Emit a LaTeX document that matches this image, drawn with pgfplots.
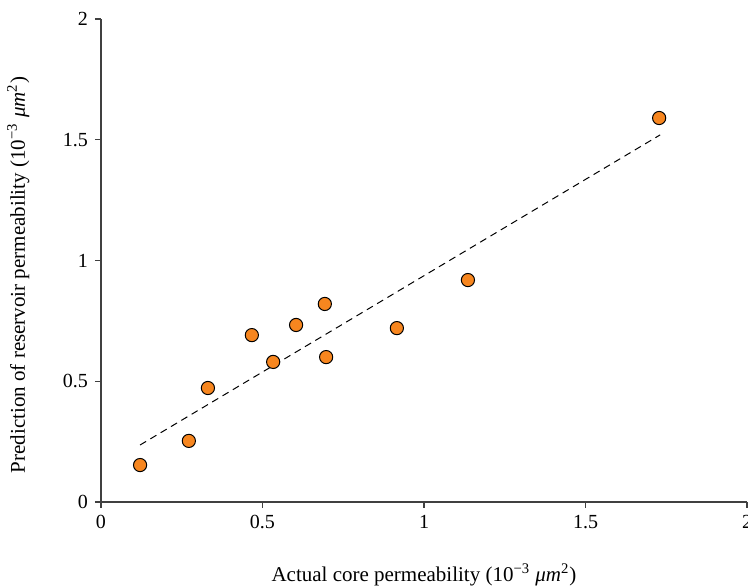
\documentclass[border=0pt]{standalone}
\usepackage{fontspec}
\setmainfont{Liberation Serif}
\usepackage{pgfplots}
\pgfplotsset{compat=1.18}
\usetikzlibrary{calc}
\definecolor{ptorange}{HTML}{F7861F}

\begin{document}
\fontsize{10}{12}\selectfont
\begin{tikzpicture}
\begin{axis}[
    name=ax,
    scale only axis,
    width=323pt, height=241.5pt,
    xmin=0, xmax=2, ymin=0, ymax=2,
    axis x line*=bottom, axis y line*=left,
    axis line style={-, line width=0.6pt, black!75},
    xtick={0,0.5,1,1.5,2}, ytick={0,0.5,1,1.5,2},
    xticklabels={0,0.5,1,1.5,2}, yticklabels={0,0.5,1,1.5,2},
    tick align=outside, major tick length=3pt,
    tick style={line width=0.6pt, black!75},
    minor tick num=0,
    ticklabel style={font=\fontsize{10}{12}\selectfont},
    /pgf/number format/assume math mode=true,
    xlabel={Actual core permeability (10\textsuperscript{−3} \textit{μm}\textsuperscript{2})},
    ylabel={Prediction of reservoir permeability (10\textsuperscript{−3} \textit{μm}\textsuperscript{2})},
    xlabel style={at={(axis description cs:0.5,-0.151)}, anchor=center},
    ylabel style={at={(axis description cs:-0.128,0.47)}, anchor=center, rotate=0},
    label style={font=\fontsize{10.5}{12.5}\selectfont},
    clip=false,
]
% fitted trend line
\addplot[black, line width=0.5pt, dash pattern=on 3.5pt off 2.5pt] coordinates {
    (0.121,0.236) (1.731,1.520)
};
% measured points
\addplot[only marks, mark=*, mark size=3.3pt,
    mark options={fill=ptorange, draw=black, line width=0.5pt}] coordinates {
    (0.121,0.153)
    (0.272,0.253)
    (0.331,0.472)
    (0.467,0.691)
    (0.533,0.580)
    (0.604,0.733)
    (0.693,0.820)
    (0.697,0.600)
    (0.916,0.720)
    (1.136,0.919)
    (1.728,1.590)
};
\end{axis}
\pgfresetboundingbox
\path[use as bounding box] ($(ax.south west)+(-50.5pt,-42pt)$) rectangle ($(ax.north east)+(0.5pt,9.5pt)$);
\end{tikzpicture}
\end{document}
